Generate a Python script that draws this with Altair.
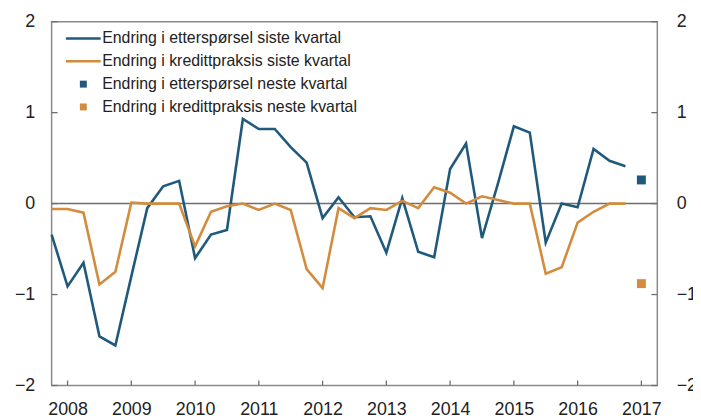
import altair as alt
import pandas as pd

# ---- data -------------------------------------------------------------
quarters = ["2007K4"] + [f"{y}K{q}" for y in range(2008, 2017) for q in range(1, 5)]
demand_last = [-0.34, -0.91, -0.65, -1.46, -1.56, -0.80, -0.05, 0.19, 0.25, -0.60,
               -0.34, -0.29, 0.93, 0.82, 0.82, 0.62, 0.45, -0.16, 0.07, -0.15,
               -0.14, -0.54, 0.06, -0.53, -0.59, 0.38, 0.66, -0.38, 0.22, 0.85,
               0.78, -0.43, 0.00, -0.04, 0.60, 0.47, 0.41]
credit_last = [-0.06, -0.06, -0.10, -0.89, -0.75, 0.01, 0.00, 0.00, 0.00, -0.47,
               -0.09, -0.03, 0.00, -0.07, 0.00, -0.07, -0.72, -0.93, -0.05, -0.16,
               -0.05, -0.07, 0.03, -0.05, 0.18, 0.12, 0.00, 0.08, 0.04, 0.00,
               0.00, -0.77, -0.70, -0.21, -0.09, 0.00, 0.00]
forecast_quarter = "2017K1"
demand_next = 0.26
credit_next = -0.88

series_names = [
    "Endring i etterspørsel siste kvartal",
    "Endring i kredittpraksis siste kvartal",
    "Endring i etterspørsel neste kvartal",
    "Endring i kredittpraksis neste kvartal",
]
year_labels = list(range(2008, 2018))
y_tick_values = [-2, -1, 0, 1, 2]

BLUE = "#1f5a7c"
ORANGE = "#d38c3d"
FONT = "Liberation Sans"
TXT = "#222222"

# ---- tables -------------------------------------------------------------
all_q = quarters + [forecast_quarter]
pos = {q: i for i, q in enumerate(all_q)}

lines_df = pd.DataFrame(
    [{"t": pos[q], "value": v, "series": series_names[0]} for q, v in zip(quarters, demand_last)]
    + [{"t": pos[q], "value": v, "series": series_names[1]} for q, v in zip(quarters, credit_last)]
)
points_df = pd.DataFrame([
    {"t": pos[forecast_quarter], "value": demand_next, "series": series_names[2]},
    {"t": pos[forecast_quarter], "value": credit_next, "series": series_names[3]},
])
xtick_df = pd.DataFrame({"t": [pos[f"{y}K1"] for y in year_labels]})
ytick_df = pd.DataFrame({"y": y_tick_values})
zero_df = pd.DataFrame({"y": [0]})

W, H = 611, 367
xscale = alt.Scale(domain=[0, 38], nice=False, zero=False)
yscale = alt.Scale(domain=[-2, 2], nice=False)

minus_expr = "datum.value < 0 ? '\u2212' + abs(datum.value) : '' + datum.value"

left_axis = alt.Axis(values=y_tick_values, ticks=False, domain=False, grid=False,
                     labelFontSize=18, labelFont=FONT, labelColor=TXT, labelPadding=17,
                     labelExpr=minus_expr, title=None)
right_axis = alt.Axis(orient="right", values=y_tick_values, ticks=False, domain=False,
                      grid=False, labelFontSize=18, labelFont=FONT, labelColor=TXT,
                      labelPadding=19, labelExpr=minus_expr, title=None)
x_axis = alt.Axis(orient="bottom", values=xtick_df["t"].tolist(), ticks=False, domain=False,
                  grid=False, labelFontSize=18, labelFont=FONT, labelColor=TXT,
                  labelPadding=15, labelBaseline="top",
                  labelExpr="'' + (floor((datum.value - 1) / 4) + 2008)", title=None)

zero = alt.Chart(zero_df).mark_rule(color="#6e6e6e", strokeWidth=1.5).encode(
    y=alt.Y("y:Q", scale=yscale, axis=None))

line_path = "M-5,-0.36H5V0.36H-5Z"
square_path = "M-1,-1H1V1H-1Z"

lines = alt.Chart(lines_df).mark_line(strokeWidth=2.6).encode(
    x=alt.X("t:Q", scale=xscale, axis=x_axis),
    y=alt.Y("value:Q", scale=yscale, axis=left_axis),
    stroke=alt.Stroke("series:N", scale=alt.Scale(domain=series_names[:2], range=[BLUE, ORANGE]),
                      legend=None),
)

legend = alt.Legend(title=None, orient="none", legendX=24, legendY=9, padding=0,
                    labelFontSize=16, labelFont=FONT, labelColor=TXT, labelOffset=11,
                    rowPadding=7, symbolSize=49, symbolStrokeWidth=0, labelLimit=400)

points = alt.Chart(points_df).mark_point(filled=True, size=81, opacity=1).encode(
    x=alt.X("t:Q", scale=xscale, axis=x_axis),
    y=alt.Y("value:Q", scale=yscale, axis=None),
    fill=alt.Fill("series:N", scale=alt.Scale(domain=series_names,
                                               range=[BLUE, ORANGE, BLUE, ORANGE]),
                  legend=legend),
    shape=alt.Shape("series:N", scale=alt.Scale(domain=series_names,
                                                 range=[line_path, line_path, square_path, square_path]),
                    legend=legend),
)

tick_style = dict(color="#6e6e6e", strokeWidth=1.3)
ytick_left = alt.Chart(ytick_df).mark_rule(**tick_style).encode(
    y=alt.Y("y:Q", scale=yscale, axis=None), x=alt.value(0), x2=alt.value(6))
ytick_right = alt.Chart(ytick_df).mark_rule(**tick_style).encode(
    y=alt.Y("y:Q", scale=yscale, axis=right_axis), x=alt.value(W - 6), x2=alt.value(W))
xtick = alt.Chart(xtick_df).mark_rule(**tick_style).encode(
    x=alt.X("t:Q", scale=xscale, axis=x_axis), y=alt.value(H), y2=alt.value(H - 5))

chart = alt.layer(zero, lines, points, ytick_left, ytick_right, xtick).resolve_axis(
    y="independent"
).properties(
    width=W, height=H,
    autosize=alt.AutoSizeParams(type="none"),
    padding={"left": 44, "top": 12, "right": 36, "bottom": 33},
).configure_view(stroke="#8a8a8a", strokeWidth=1.5)

chart.save("out.html", embed_options={"renderer": "svg", "actions": False})
